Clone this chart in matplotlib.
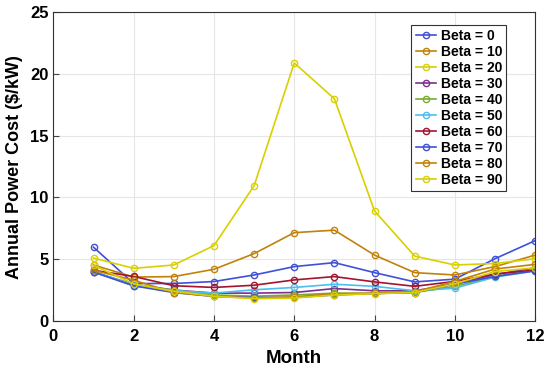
import matplotlib
matplotlib.use("Agg")
import matplotlib.pyplot as plt

months = list(range(1, 13))
betas = [0, 10, 20, 30, 40, 50, 60, 70, 80, 90]

beta0 = [5.97, 3.03, 3.03, 3.19, 3.72, 4.40, 4.72, 3.91, 3.16, 3.38, 5.04, 6.50]
beta10 = [4.53, 3.55, 3.59, 4.18, 5.45, 7.15, 7.35, 5.33, 3.91, 3.72, 4.40, 5.33]
beta20 = [5.09, 4.26, 4.53, 6.10, 10.95, 20.9, 18.0, 8.9, 5.25, 4.53, 4.65, 5.04]
beta30 = [3.96, 2.95, 2.50, 2.25, 2.25, 2.30, 2.62, 2.44, 2.44, 2.99, 3.75, 4.30]
beta40 = [3.96, 2.84, 2.50, 2.10, 2.00, 2.10, 2.25, 2.22, 2.30, 2.80, 3.60, 4.12]
beta50 = [4.00, 2.90, 2.45, 2.25, 2.52, 2.71, 2.97, 2.80, 2.44, 2.65, 3.55, 4.05]
beta60 = [4.10, 3.60, 2.85, 2.71, 2.89, 3.32, 3.59, 3.16, 2.80, 3.20, 3.80, 4.12]
beta70 = [3.96, 2.84, 2.30, 1.98, 1.90, 1.90, 2.10, 2.22, 2.30, 2.99, 3.60, 4.05]
beta80 = [4.10, 3.30, 2.30, 2.00, 1.85, 1.95, 2.20, 2.25, 2.35, 3.20, 4.20, 4.58]
beta90 = [4.50, 3.00, 2.40, 2.00, 1.80, 1.85, 2.10, 2.20, 2.30, 3.00, 4.00, 4.30]
series = [beta0, beta10, beta20, beta30, beta40, beta50, beta60, beta70, beta80, beta90]

colors = ['#3F51D6', '#C0820A', '#D8D000', '#7E2F8E', '#77AC30',
          '#4DBEEE', '#A2142F', '#3F51D6', '#C0820A', '#D8D000']

plt.rcParams['font.family'] = ['Liberation Sans', 'DejaVu Sans']
plt.rcParams['font.weight'] = 'bold'

fig = plt.figure(figsize=(5.5, 3.74), dpi=100)
ax = fig.add_axes([0.097, 0.142, 0.876, 0.825])

for b, vals, c in zip(betas, series, colors):
    ax.plot(months, vals, '-o', color=c, lw=1.2, ms=4.5, mfc='none', mew=1.0,
            label='Beta = %d' % b)

ax.set_xlim(0, 12)
ax.set_ylim(0, 25)
ax.set_xticks(range(0, 13, 2))
ax.set_yticks(range(0, 26, 5))
ax.tick_params(direction='in', labelsize=12, length=4, color='#444444')
ax.tick_params(axis='x', pad=6)
for lab in ax.get_xticklabels() + ax.get_yticklabels():
    lab.set_fontweight('bold')
ax.grid(True, color='#e6e6e6', lw=0.8)
ax.set_axisbelow(True)
for s in ax.spines.values():
    s.set_color('#333333')
    s.set_linewidth(0.8)
ax.set_xlabel('Month', fontsize=13.5, fontweight='bold', labelpad=4)
ax.set_ylabel('Annual Power Cost ($/kW)', fontsize=13, fontweight='bold', labelpad=5)

leg = ax.legend(loc='upper right', bbox_to_anchor=(0.94, 0.959),
                prop={'weight': 'bold', 'size': 10}, fancybox=False, framealpha=1,
                edgecolor='#333333', handlelength=1.5, labelspacing=0.14,
                borderpad=0.3, handletextpad=0.3, borderaxespad=0)
leg.get_frame().set_linewidth(0.8)

fig.savefig('out.png', dpi=100)
